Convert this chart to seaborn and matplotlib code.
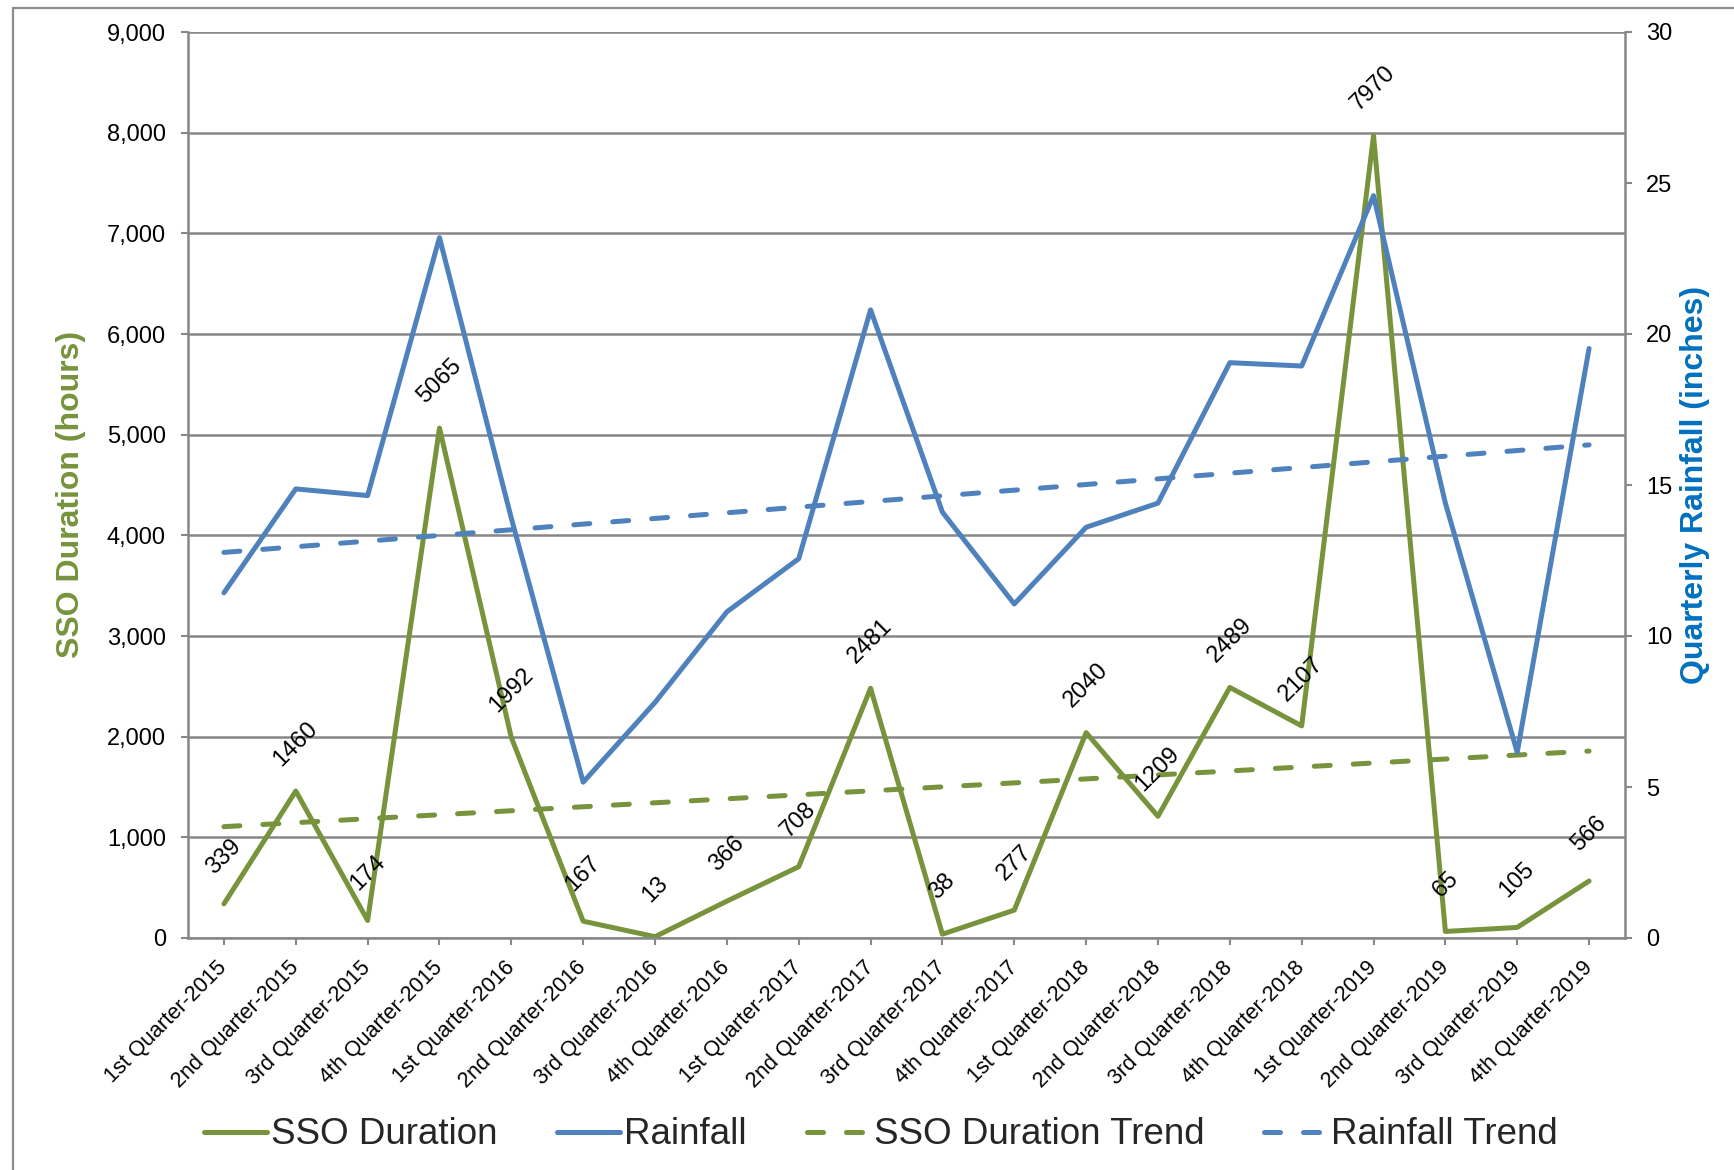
import numpy as np
import pandas as pd
import matplotlib
matplotlib.use("Agg")
import matplotlib.pyplot as plt
from matplotlib.patches import Rectangle
import seaborn as sns

# Quarterly sanitary sewer overflow duration and rainfall, 2015-2019
quarters = [
    "1st Quarter-2015", "2nd Quarter-2015", "3rd Quarter-2015", "4th Quarter-2015",
    "1st Quarter-2016", "2nd Quarter-2016", "3rd Quarter-2016", "4th Quarter-2016",
    "1st Quarter-2017", "2nd Quarter-2017", "3rd Quarter-2017", "4th Quarter-2017",
    "1st Quarter-2018", "2nd Quarter-2018", "3rd Quarter-2018", "4th Quarter-2018",
    "1st Quarter-2019", "2nd Quarter-2019", "3rd Quarter-2019", "4th Quarter-2019",
]
sso_hours = [339, 1460, 174, 5065, 1992, 167, 13, 366, 708, 2481,
             38, 277, 2040, 1209, 2489, 2107, 7970, 65, 105, 566]
rainfall_in = [11.43, 14.87, 14.65, 23.19, 13.9, 5.16, 7.8, 10.8, 12.56, 20.8,
               14.1, 11.06, 13.6, 14.4, 19.05, 18.94, 24.58, 14.4, 6.15, 19.52]

GREEN = "#77933C"
BLUE = "#4F81BD"
BLUE_TITLE = "#0070C0"
GRID = "#878787"

sns.set_theme(style="white")
plt.rcParams["font.family"] = ["Liberation Sans", "DejaVu Sans"]

df = pd.DataFrame({
    "pos": np.arange(len(quarters)),
    "quarter": quarters,
    "sso": sso_hours,
    "rain": rainfall_in,
})
# Linear trendlines fitted to each series
df["sso_trend"] = np.polyval(np.polyfit(df["pos"], df["sso"], 1), df["pos"])
df["rain_trend"] = np.polyval(np.polyfit(df["pos"], df["rain"], 1), df["pos"])

W, H = 1734, 1170
fig = plt.figure(figsize=(W / 100, H / 100), dpi=100)
fig.patch.set_facecolor("white")
ax = fig.add_axes([188 / W, 1 - 938 / H, (1625 - 188) / W, (938 - 32) / H])
ax2 = ax.twinx()

LW = 3.6
DASH = [3.2, 4.6]


def style_trend(line):
    line.set_dashes(DASH)
    line.set_dash_capstyle("round")


sns.lineplot(data=df, x="pos", y="sso", ax=ax, color=GREEN, lw=LW, label="SSO Duration",
             solid_capstyle="round")
sso_line = ax.lines[-1]
sns.lineplot(data=df, x="pos", y="sso_trend", ax=ax, color=GREEN, lw=LW, label="SSO Duration Trend")
sso_trend_line = ax.lines[-1]
style_trend(sso_trend_line)

sns.lineplot(data=df, x="pos", y="rain", ax=ax2, color=BLUE, lw=LW, label="Rainfall",
             solid_capstyle="round")
rain_line = ax2.lines[-1]
sns.lineplot(data=df, x="pos", y="rain_trend", ax=ax2, color=BLUE, lw=LW, label="Rainfall Trend")
rain_trend_line = ax2.lines[-1]
style_trend(rain_trend_line)

for a in (ax, ax2):
    if a.get_legend() is not None:
        a.get_legend().remove()

# Axes limits and ticks
ax.set_xlim(-0.5, len(quarters) - 0.5)
ax.set_ylim(0, 9000)
ax2.set_ylim(0, 30)
ax.set_yticks(np.arange(0, 9001, 1000))
ax.set_yticklabels([f"{v:,}" for v in range(0, 9001, 1000)])
ax2.set_yticks(np.arange(0, 31, 5))
ax.set_xticks(df["pos"])
ax.set_xticklabels(quarters, rotation=45, ha="right", va="center", rotation_mode="anchor")

ax.grid(axis="y", color=GRID, lw=1.8)
ax.grid(axis="x", visible=False)
ax2.grid(False)
ax.set_axisbelow(True)

for a in (ax, ax2):
    for s in a.spines.values():
        s.set_visible(False)
ax.spines["left"].set_visible(True)
ax.spines["bottom"].set_visible(True)
ax2.spines["right"].set_visible(True)
for s in (ax.spines["left"], ax.spines["bottom"], ax2.spines["right"]):
    s.set_color(GRID)
    s.set_linewidth(1.8)

ax.tick_params(axis="y", which="both", left=True, length=5, width=1.5, color=GRID,
               pad=11, labelsize=17, labelcolor="black")
ax.tick_params(axis="x", bottom=True, length=5, width=1.5, color=GRID,
               pad=14, labelsize=15.5, labelcolor="black")
ax2.tick_params(axis="y", right=True, length=5, width=1.5, color=GRID,
                pad=10, labelsize=17, labelcolor="black")

ax.set_xlabel("")
ax.set_ylabel("SSO Duration (hours)", color=GREEN, fontsize=23, fontweight="bold")
ax.yaxis.set_label_coords(-0.0713, 0.49)
ax2.set_ylabel("Quarterly Rainfall (inches)", color=BLUE_TITLE, fontsize=23, fontweight="bold")
ax2.yaxis.set_label_coords(1.038, 0.5)

# Value labels above each SSO point
for p, v in zip(df["pos"], df["sso"]):
    ax2.annotate(f"{v}", xy=(p, v), xycoords=ax.transData, xytext=(0, 34),
                 textcoords="offset points", ha="center", va="center",
                 rotation=45, fontsize=17, color="black", zorder=10)

handles = [sso_line, rain_line, sso_trend_line, rain_trend_line]
labels = ["SSO Duration", "Rainfall", "SSO Duration Trend", "Rainfall Trend"]
fig.legend(handles, labels, loc="center", bbox_to_anchor=(0.508, 1 - 1135 / H),
           ncol=4, frameon=False, fontsize=26.5, handlelength=1.7,
           handletextpad=0.12, columnspacing=1.62)

# Outer chart frame
fig.patches.append(Rectangle((13 / W, -0.05), 1.2, 1.05 - 8 / H, transform=fig.transFigure,
                             fill=False, ec="#8c8c8c", lw=1.6))

fig.savefig("out.png", dpi=100, facecolor="white")
